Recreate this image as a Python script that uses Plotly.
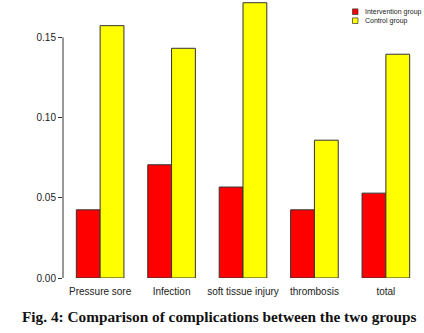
import plotly.graph_objects as go

categories = ["Pressure sore", "Infection", "soft tissue injury", "thrombosis", "total"]
series_names = ["Intervention group", "Control group"]
intervention = [0.0425, 0.0706, 0.0567, 0.0425, 0.0529]
control = [0.1573, 0.1432, 0.1716, 0.0859, 0.1395]
y_ticks = [0.0, 0.05, 0.10, 0.15]
colors = ["#FF0000", "#FFFF00"]
caption = "Fig. 4: Comparison of complications between the two groups"

fig = go.Figure()
for name, vals, col in zip(series_names, [intervention, control], colors):
    fig.add_trace(go.Bar(x=categories, y=vals, name=name, marker_color=col,
                         marker_line_color="#333333", marker_line_width=1,
                         showlegend=False))

W, H = 424, 333
ml, mr, mt, mb = 63, 1, 0, 55
fig.update_layout(
    width=W, height=H, margin=dict(l=ml, r=mr, t=mt, b=mb),
    paper_bgcolor="white", plot_bgcolor="white",
    barmode="group", bargap=1/3, bargroupgap=0,
    font=dict(family="Liberation Sans, Arial, sans-serif", color="#222222", size=10),
    xaxis=dict(range=[-0.52, 4.52], showline=False, showgrid=False, zeroline=False,
               ticks="", tickfont=dict(size=10), ticklabelstandoff=6),
    yaxis=dict(range=[0, 0.1733], showline=False, showgrid=False, zeroline=False,
               tickvals=y_ticks, tickformat=".2f", ticks="outside", ticklen=4,
               tickcolor="#333333", tickfont=dict(size=10)),
)
# y axis line spanning the tick range (R style)
fig.add_shape(type="line", xref="paper", yref="y", x0=0, x1=0, y0=y_ticks[0], y1=y_ticks[-1],
              line=dict(color="#333333", width=1))

# manual small legend
plot_w = W - ml - mr
plot_h = H - mt - mb
def px_to_paper(xp, yp):
    return (xp - ml) / plot_w, 1 - (yp - mt) / plot_h
for i, (name, col) in enumerate(zip(series_names, colors)):
    cy = 11.7 + 9 * i
    x0, y0 = px_to_paper(352.5, cy - 2.8)
    x1, y1 = px_to_paper(358, cy + 2.8)
    fig.add_shape(type="rect", xref="paper", yref="paper", x0=x0, x1=x1, y0=y0, y1=y1,
                  fillcolor=col, line=dict(color="#333333", width=0.7))
    tx, ty = px_to_paper(362.5, cy)
    fig.add_annotation(xref="paper", yref="paper", x=tx, y=ty, text=name, showarrow=False,
                       xanchor="left", yanchor="middle", font=dict(size=7, color="#222222"))

cx, cy = px_to_paper(219, 316.7)
fig.add_annotation(xref="paper", yref="paper", x=cx, y=cy, text="<b>" + caption + "</b>",
                   showarrow=False, xanchor="center", yanchor="middle",
                   font=dict(family="Liberation Serif, Times New Roman, serif", size=15.3, color="#111111"))

fig.write_html("out.html")
